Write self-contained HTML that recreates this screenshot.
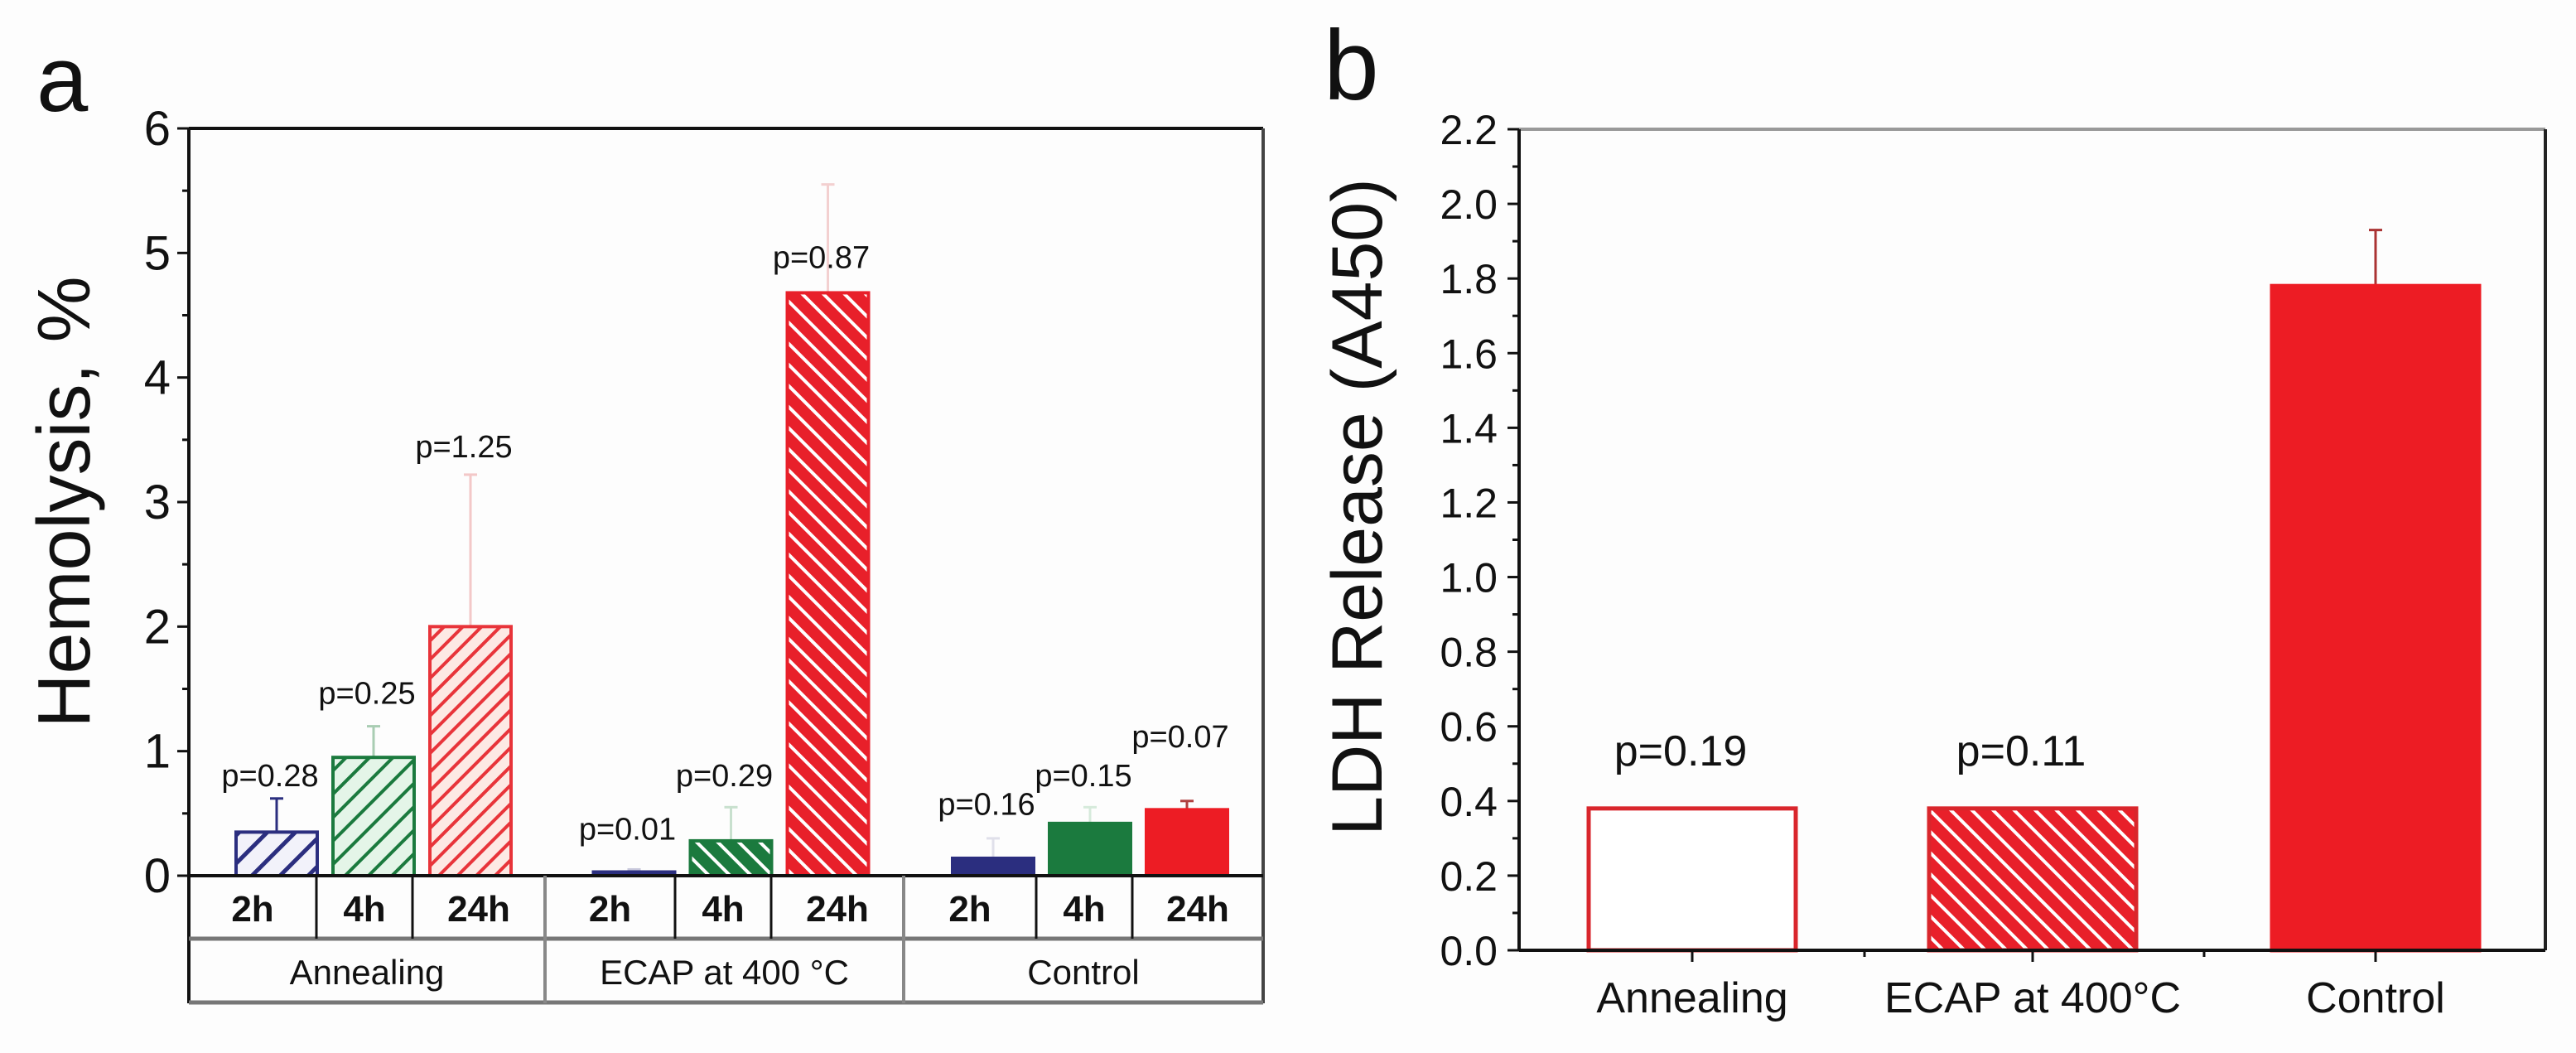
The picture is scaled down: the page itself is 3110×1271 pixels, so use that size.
<!DOCTYPE html>
<html><head><meta charset="utf-8">
<style>
html,body{margin:0;padding:0;background:#fdfdfd;}
svg{display:block;font-family:"Liberation Sans",Arial,sans-serif;}
</style></head>
<body>
<svg id="chart" width="3110" height="1271" viewBox="0 0 3110 1271" xmlns="http://www.w3.org/2000/svg">
<defs>
  <pattern id="hatchNavy" patternUnits="userSpaceOnUse" width="24" height="24" patternTransform="rotate(45)">
    <rect width="24" height="24" fill="#f2f2fa"/><rect width="5" height="24" fill="#2b2e7f"/>
  </pattern>
  <pattern id="hatchGreen" patternUnits="userSpaceOnUse" width="20" height="20" patternTransform="rotate(45)">
    <rect width="20" height="20" fill="#e4f5e8"/><rect width="4" height="20" fill="#1b7a3e"/>
  </pattern>
  <pattern id="hatchRedLight" patternUnits="userSpaceOnUse" width="16" height="16" patternTransform="rotate(45)">
    <rect width="16" height="16" fill="#fde9e4"/><rect width="4" height="16" fill="#e8343a"/>
  </pattern>
  <pattern id="hatchGreenDark" patternUnits="userSpaceOnUse" width="18" height="18" patternTransform="rotate(-45)">
    <rect width="18" height="18" fill="#1b7a3e"/><rect width="4" height="18" fill="#ffffff"/>
  </pattern>
  <pattern id="hatchRedDark" patternUnits="userSpaceOnUse" width="18" height="18" patternTransform="rotate(-45)">
    <rect width="18" height="18" fill="#e8202a"/><rect width="4" height="18" fill="#ffffff"/>
  </pattern>
</defs>
<g id="panelA"></g>
<g id="panelB"></g>
</svg>
<script>
// ---------- Panel A data ----------
const aGroups = ["Annealing", "ECAP at 400 °C", "Control"];
const aTimes = ["2h", "4h", "24h"];
const aValues = [0.35, 0.95, 2.0, 0.03, 0.28, 4.68, 0.14, 0.42, 0.53];
const aErrors = [0.27, 0.25, 1.22, 0.02, 0.27, 0.87, 0.16, 0.13, 0.07];
const aPLabels = ["p=0.28", "p=0.25", "p=1.25", "p=0.01", "p=0.29", "p=0.87", "p=0.16", "p=0.15", "p=0.07"];
const aPLabelLevel = [0.72, 1.38, 3.36, 0.29, 0.72, 4.88, 0.49, 0.72, 1.03];
const aTicks = [0, 1, 2, 3, 4, 5, 6];
// ---------- Panel B data ----------
const bCategories = ["Annealing", "ECAP at 400°C", "Control"];
const bValues = [0.38, 0.38, 1.78];
const bErrors = [0, 0, 0.15];
const bPLabels = ["p=0.19", "p=0.11", ""];
const bPLabelLevel = [0.495, 0.495, 0];
const bTicks = [0.0, 0.2, 0.4, 0.6, 0.8, 1.0, 1.2, 1.4, 1.6, 1.8, 2.0, 2.2];

const NS = "http://www.w3.org/2000/svg";
function mk(parent, tag, attrs, text) {
  const e = document.createElementNS(NS, tag);
  for (const k in attrs) e.setAttribute(k, attrs[k]);
  if (text !== undefined) e.textContent = text;
  parent.appendChild(e);
  return e;
}

// ===== Panel A =====
(function () {
  const g = document.getElementById("panelA");
  const L = 228, R = 1525, T = 155, B = 1057;
  const yMax = 6;
  const y = v => B - v * (B - T) / yMax;
  const groupEdges = [L, 658, 1091, R];
  const subEdges = [[L, 382, 498, 658], [658, 815, 931, 1091], [1091, 1251, 1367, 1525]];
  const barW = 98;
  const barCenters = [];
  subEdges.forEach(se => {
    const gl = se[0], gr = se[3];
    const mid = (gl + gr) / 2 + 8;
    barCenters.push(mid - 117, mid, mid + 117);
  });
  const fills = ["url(#hatchNavy)", "url(#hatchGreen)", "url(#hatchRedLight)",
                 "#2b2e7f", "url(#hatchGreenDark)", "url(#hatchRedDark)",
                 "#2b2e7f", "#1b7a3e", "#ed1c24"];
  const strokes = ["#2b2e7f", "#1b7a3e", "#e8343a", "#2b2e7f", "#1b7a3e", "#e8202a", "#2b2e7f", "#1b7a3e", "#ed1c24"];
  const errColors = ["#2b2e7f", "#a9cdb3", "#f3c8c8", "#c8c8dc", "#c8e0ce", "#f3d0d0", "#e0e0ea", "#d6eadb", "#b04040"];

  let e = mk(g, "line", {x1: L, y1: T, x2: R, y2: T, stroke: "#111", "stroke-width": 4});
   
  e = mk(g, "line", {x1: R, y1: T, x2: R, y2: 1211, stroke: "#444", "stroke-width": 4});
   
  e = mk(g, "line", {x1: L, y1: T, x2: L, y2: 1211, stroke: "#111", "stroke-width": 4});
   

  aTicks.forEach(t => {
    const yy = y(t);
    const tk = mk(g, "line", {x1: L - 14, y1: yy, x2: L, y2: yy, stroke: "#111", "stroke-width": 3});
     
    const lb = mk(g, "text", {x: L - 22, y: yy + 20, "font-size": 58, "text-anchor": "end", fill: "#111"}, String(t));
     
    if (t < yMax) {
      const m = mk(g, "line", {x1: L - 8, y1: y(t + 0.5), x2: L, y2: y(t + 0.5), stroke: "#111", "stroke-width": 3});
       
    }
  });

  aValues.forEach((v, i) => {
    const cx = barCenters[i];
    const top = y(v);
    const err = aErrors[i];
    const el = mk(g, "line", {x1: cx, y1: y(v + err), x2: cx, y2: top, stroke: errColors[i], "stroke-width": 3});
     
    const cap = mk(g, "line", {x1: cx - 8, y1: y(v + err), x2: cx + 8, y2: y(v + err), stroke: errColors[i], "stroke-width": 3});
     
    const r = mk(g, "rect", {x: cx - barW / 2, y: top, width: barW, height: Math.max(B - top, 1), fill: fills[i], stroke: strokes[i], "stroke-width": 4});
    
    
    const p = mk(g, "text", {x: cx - 8, y: y(aPLabelLevel[i]), "font-size": 38, "text-anchor": "middle", fill: "#111"}, aPLabels[i]);
     
  });

  e = mk(g, "line", {x1: L, y1: B, x2: R, y2: B, stroke: "#111", "stroke-width": 4});
   
  e = mk(g, "line", {x1: L, y1: 1133, x2: R, y2: 1133, stroke: "#777", "stroke-width": 5});
   
  e = mk(g, "line", {x1: L, y1: 1210, x2: R, y2: 1210, stroke: "#777", "stroke-width": 5});
   
  groupEdges.slice(1, 3).forEach(x => {
    const d = mk(g, "line", {x1: x, y1: B, x2: x, y2: 1211, stroke: "#888", "stroke-width": 4});
     
  });
  subEdges.forEach((se, gi) => {
    [se[1], se[2]].forEach(x => {
      const d = mk(g, "line", {x1: x, y1: B, x2: x, y2: 1133, stroke: "#111", "stroke-width": 3});
       
    });
    for (let k = 0; k < 3; k++) {
      const t = mk(g, "text", {x: (se[k] + se[k + 1]) / 2, y: 1112, "font-size": 44, "font-weight": "bold", "text-anchor": "middle", fill: "#111"}, aTimes[k]);
       
    }
    const gl = mk(g, "text", {x: (se[0] + se[3]) / 2, y: 1188, "font-size": 42, "text-anchor": "middle", fill: "#111"}, aGroups[gi]);
     
  });

  const yl = mk(g, "text", {x: 0, y: 0, "font-size": 90, "text-anchor": "middle", fill: "#111", transform: "translate(108,606) rotate(-90)"}, "Hemolysis, %");
   
  const pl = mk(g, "text", {x: 44, y: 134, "font-size": 112, fill: "#111"}, "a");
   
})();

// ===== Panel B =====
(function () {
  const g = document.getElementById("panelB");
  const L = 1834, R = 3073, T = 156, B = 1147;
  const yMax = 2.2;
  const y = v => B - v * (B - T) / yMax;
  const centers = [2043, 2454, 2868];
  const barW = 250;
  const fills = ["#ffffff", "url(#hatchRedDark)", "#ed1c24"];
  const strokes = ["#d9262c", "#d9262c", "#ed1c24"];

  let e = mk(g, "line", {x1: L, y1: T, x2: R, y2: T, stroke: "#999", "stroke-width": 4});
   
  e = mk(g, "line", {x1: R, y1: T, x2: R, y2: B, stroke: "#222", "stroke-width": 4});
   
  e = mk(g, "line", {x1: L, y1: T, x2: L, y2: B, stroke: "#111", "stroke-width": 4});
   

  bTicks.forEach((t, i) => {
    const yy = y(t);
    const tk = mk(g, "line", {x1: L - 14, y1: yy, x2: L, y2: yy, stroke: "#111", "stroke-width": 3});
     
    const lb = mk(g, "text", {x: L - 26, y: yy + 18, "font-size": 50, "text-anchor": "end", fill: "#111"}, t.toFixed(1));
     
    if (i < bTicks.length - 1) {
      const m = mk(g, "line", {x1: L - 8, y1: y(t + 0.1), x2: L, y2: y(t + 0.1), stroke: "#111", "stroke-width": 3});
       
    }
  });

  bValues.forEach((v, i) => {
    const cx = centers[i];
    const top = y(v);
    if (bErrors[i] > 0) {
      const el = mk(g, "line", {x1: cx, y1: y(v + bErrors[i]), x2: cx, y2: top, stroke: "#a33", "stroke-width": 3});
       
      const cap = mk(g, "line", {x1: cx - 8, y1: y(v + bErrors[i]), x2: cx + 8, y2: y(v + bErrors[i]), stroke: "#a33", "stroke-width": 3});
       
    }
    const r = mk(g, "rect", {x: cx - barW / 2, y: top, width: barW, height: B - top, fill: fills[i], stroke: strokes[i], "stroke-width": 5});
    
    
    if (bPLabels[i]) {
      const p = mk(g, "text", {x: cx - 14, y: y(bPLabelLevel[i]), "font-size": 52, "text-anchor": "middle", fill: "#111"}, bPLabels[i]);
       
    }
    const xt = mk(g, "line", {x1: cx, y1: B, x2: cx, y2: B + 14, stroke: "#111", "stroke-width": 3});
     
    const xl = mk(g, "text", {x: cx, y: B + 75, "font-size": 52, "text-anchor": "middle", fill: "#111"}, bCategories[i]);
     
  });
  [2251, 2661].forEach(x => {
    const m = mk(g, "line", {x1: x, y1: B, x2: x, y2: B + 8, stroke: "#111", "stroke-width": 3});
     
  });
  e = mk(g, "line", {x1: L, y1: B, x2: R, y2: B, stroke: "#111", "stroke-width": 4});
   

  const yl = mk(g, "text", {x: 0, y: 0, "font-size": 86, "text-anchor": "middle", fill: "#111", transform: "translate(1668,612) rotate(-90)"}, "LDH Release (A450)");
   
  const pl = mk(g, "text", {x: 1598, y: 120, "font-size": 120, fill: "#111"}, "b");
   
})();
</script>
</body></html>
